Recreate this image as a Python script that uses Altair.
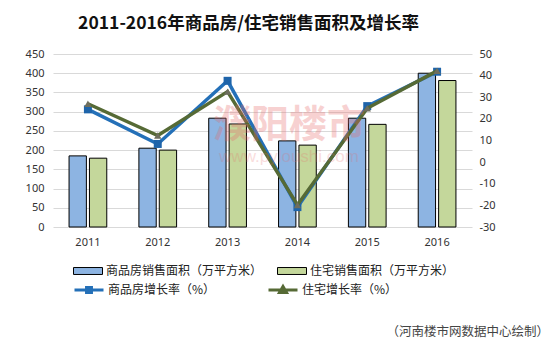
import altair as alt
import pandas as pd

years = ["2011", "2012", "2013", "2014", "2015", "2016"]
bar_series = ["商品房销售面积（万平方米）", "住宅销售面积（万平方米）"]
commercial_area = [185, 205, 283, 224, 283, 400]
residential_area = [179, 200, 268, 213, 267, 381]
line_series = ["商品房增长率（%）", "住宅增长率（%）"]
commercial_rate = [24.4, 8.4, 37.6, -20.8, 25.9, 41.8]
residential_rate = [27.0, 12.3, 32.6, -19.8, 24.9, 42.2]

bars_df = pd.DataFrame(
    [{"year": y, "series": bar_series[0], "value": v} for y, v in zip(years, commercial_area)]
    + [{"year": y, "series": bar_series[1], "value": v} for y, v in zip(years, residential_area)]
)
rate_df = pd.DataFrame(
    [{"year": y, "series": line_series[0], "rate": v} for y, v in zip(years, commercial_rate)]
    + [{"year": y, "series": line_series[1], "rate": v} for y, v in zip(years, residential_rate)]
)

FONT = "Noto Sans CJK SC"
BLUE_BAR, GREEN_BAR = "#8DB4E2", "#C4D79B"
BLUE_LINE, GREEN_LINE = "#2470B8", "#566A35"

x_enc = alt.X(
    "year:N",
    sort=years,
    scale=alt.Scale(paddingInner=0.46, paddingOuter=0.23),
    axis=alt.Axis(title=None, labelAngle=0, domain=False, ticks=False, grid=False,
                  labelPadding=9, labelFontSize=11, labelFont="Noto Sans", labelColor="#333333"),
)

bars = alt.Chart(bars_df).mark_bar(stroke="black", strokeWidth=1).encode(
    x=x_enc,
    xOffset=alt.XOffset("series:N", sort=bar_series, scale=alt.Scale(paddingInner=0.15, paddingOuter=0)),
    y=alt.Y("value:Q", scale=alt.Scale(domain=[0, 450], nice=False),
            axis=alt.Axis(title=None, values=list(range(0, 451, 50)), domain=False, ticks=False,
                          grid=True, gridColor="#D9D9D9", labelPadding=9, labelFontSize=11,
                          labelFont="Noto Sans", labelColor="#333333")),
    color=alt.Color("series:N", sort=bar_series,
                    scale=alt.Scale(domain=bar_series, range=[BLUE_BAR, GREEN_BAR]),
                    legend=alt.Legend(title=None, orient="none", legendX=20, legendY=202,
                                      direction="horizontal", columns=2, columnPadding=12,
                                      symbolType="M-1,-0.24H1V0.24H-1Z", symbolSize=841,
                                      symbolStrokeColor="black", symbolStrokeWidth=1,
                                      labelFont=FONT, labelFontSize=12, labelColor="#222222",
                                      labelOffset=3, labelLimit=300)),
)

y_rate = alt.Y("rate:Q", scale=alt.Scale(domain=[-30, 50], nice=False),
               axis=alt.Axis(title=None, orient="right", values=list(range(-30, 51, 10)),
                             labelExpr="datum.value + ''",
                             domain=False, ticks=False, grid=False, labelPadding=7,
                             labelFontSize=11, labelFont="Noto Sans", labelColor="#333333"))


def line_legend(x, path, fill):
    return alt.Legend(title=None, orient="none", legendX=x, legendY=220,
                      symbolType=path, symbolSize=841, symbolStrokeWidth=3,
                      symbolFillColor=fill, symbolOpacity=1,
                      labelFont=FONT, labelFontSize=12, labelColor="#222222",
                      labelOffset=3, labelLimit=300)


blue_line = alt.Chart(rate_df).transform_filter(
    alt.datum.series == line_series[0]
).mark_line(strokeWidth=3.5).encode(
    x=x_enc, y=y_rate,
    stroke=alt.Stroke("series:N", scale=alt.Scale(domain=[line_series[0]], range=[BLUE_LINE]),
                      legend=line_legend(20, "M-1,0H1M-0.17,-0.17H0.17V0.17H-0.17Z", BLUE_LINE)),
)

green_line = alt.Chart(rate_df).transform_filter(
    alt.datum.series == line_series[1]
).mark_line(strokeWidth=3.5).encode(
    x=x_enc, y=y_rate,
    stroke=alt.Stroke("series:N", scale=alt.Scale(domain=[line_series[1]], range=[GREEN_LINE]),
                      legend=line_legend(214, "M-1,0H1M0,-0.24L0.24,0.17H-0.24Z", "#6E6E5E")),
)

blue_pts = alt.Chart(rate_df).transform_filter(
    alt.datum.series == line_series[0]
).mark_point(shape="square", filled=True, size=64, color="#1E64AA", opacity=1).encode(x=x_enc, y=y_rate)

green_pts = alt.Chart(rate_df).transform_filter(
    alt.datum.series == line_series[1]
).mark_point(shape="triangle-up", filled=True, size=55, color="#6E6E5E", opacity=1).encode(x=x_enc, y=y_rate)

lines = alt.layer(blue_line, blue_pts, green_line, green_pts).resolve_scale(
    stroke="independent"
).resolve_legend(stroke="independent")

watermark = alt.Chart(pd.DataFrame({"t": ["濮阳楼市"]})).mark_text(
    font=FONT, fontSize=38, fontWeight="bold", color="#E86A6A", opacity=0.3, align="center", baseline="middle"
).encode(x=alt.value(236), y=alt.value(72), text="t:N")

watermark2 = alt.Chart(pd.DataFrame({"t": ["www.pyloushi.com"]})).mark_text(
    font="Liberation Sans", fontSize=17, color="#E86A6A", opacity=0.22, align="center", baseline="middle"
).encode(x=alt.value(236), y=alt.value(103), text="t:N")

source = alt.Chart(pd.DataFrame({"t": ["（河南楼市网数据中心绘制）"]})).mark_text(
    font=FONT, fontSize=12.5, color="#444444", align="right", baseline="middle"
).encode(x=alt.value(496), y=alt.value(278), text="t:N")

chart = alt.layer(bars, lines, watermark, watermark2, source).resolve_scale(
    y="independent"
).properties(
    width=419,
    height=173,
    title=alt.TitleParams("2011-2016年商品房/住宅销售面积及增长率", font=FONT, fontSize=17.5,
                          fontWeight="bold", color="#111111", anchor="middle", dx=-14, offset=16),
    autosize=alt.AutoSizeParams(type="none"),
    padding={"left": 53, "top": 54, "right": 78, "bottom": 127},
    background="white",
).configure_view(stroke=None)

chart.save("out.html", embed_options={"renderer": "svg", "actions": False})
